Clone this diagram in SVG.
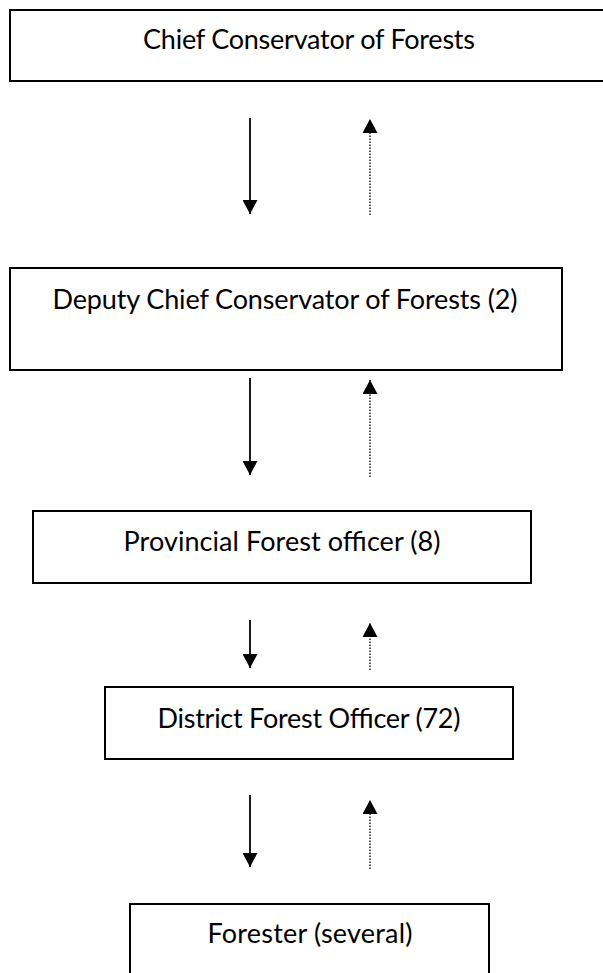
<svg xmlns="http://www.w3.org/2000/svg" width="603" height="973" viewBox="0 0 603 973">
<style>
.box{fill:#fff;stroke:#000;stroke-width:2}
.lbl{font-family:Lato,"Liberation Sans",Arial,sans-serif;font-size:27px;fill:#000;text-anchor:middle}
.down{stroke:#000;stroke-width:1.8;fill:none}
.up{stroke:#222;stroke-width:1.5;stroke-dasharray:1.5 1.5;fill:none}
</style>
<defs>
<marker id="ah" markerUnits="userSpaceOnUse" viewBox="0 0 14 15" markerWidth="14" markerHeight="15" refX="14" refY="7.5" orient="auto">
<path d="M0,0 L14,7.5 L0,15 z" fill="#000"/>
</marker>
</defs>
<rect width="603" height="973" fill="#fff"/>
<g id="n1"><rect class="box" x="10" y="10" width="610" height="71"/><text class="lbl" x="309" y="49" textLength="332">Chief Conservator of Forests</text></g>
<g id="n2"><rect class="box" x="10" y="268" width="552" height="102"/><text class="lbl" x="285" y="309" textLength="465">Deputy Chief Conservator of Forests (2)</text></g>
<g id="n3"><rect class="box" x="33" y="511" width="498" height="72"/><text class="lbl" x="282" y="551" textLength="317">Provincial Forest officer (8)</text></g>
<g id="n4"><rect class="box" x="105" y="687" width="408" height="72"/><text class="lbl" x="309" y="728" textLength="303">District Forest Officer (72)</text></g>
<g id="n5"><rect class="box" x="130" y="904" width="359" height="80"/><text class="lbl" x="310" y="943" textLength="205">Forester (several)</text></g>
<g id="connectors">
<line class="down" x1="250" y1="118" x2="250" y2="214" marker-end="url(#ah)"/>
<line class="up" x1="370" y1="215" x2="370" y2="119" marker-end="url(#ah)"/>
<line class="down" x1="250" y1="378" x2="250" y2="475" marker-end="url(#ah)"/>
<line class="up" x1="370" y1="477" x2="370" y2="380" marker-end="url(#ah)"/>
<line class="down" x1="250" y1="620" x2="250" y2="668" marker-end="url(#ah)"/>
<line class="up" x1="370" y1="670" x2="370" y2="623" marker-end="url(#ah)"/>
<line class="down" x1="250" y1="795" x2="250" y2="867" marker-end="url(#ah)"/>
<line class="up" x1="370" y1="869" x2="370" y2="800" marker-end="url(#ah)"/>
</g>
</svg>
